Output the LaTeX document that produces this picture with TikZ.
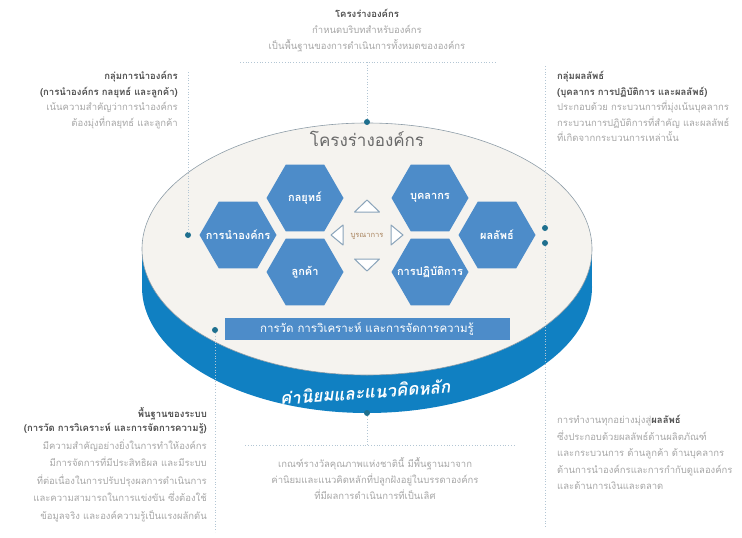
\documentclass[tikz,border=0pt]{standalone}
\usepackage{fontspec}
\usepackage{tikz}
\usetikzlibrary{shapes,positioning}
\newfontfamily\thaifont[Script=Thai]{Loma}
\definecolor{bandblue}{HTML}{1080C2}
\definecolor{hexblue}{HTML}{4D8CC9}
\definecolor{facecream}{HTML}{F5F3EF}
\definecolor{rimgrey}{HTML}{8E9DA8}
\definecolor{titlegrey}{HTML}{6A6A6A}
\definecolor{descgrey}{HTML}{A6A6A6}
\definecolor{headgrey}{HTML}{4F4F4F}
\definecolor{dotteal}{HTML}{1E6F8E}
\definecolor{guideblue}{HTML}{B3C6D4}
\definecolor{trigrey}{HTML}{8AA4BA}
\newcommand\headtxt[1]{{\bfseries\color{headgrey}#1}}
\begin{document}
\begin{tikzpicture}[x=1pt,y=-1pt,
    hexlbl/.style={text=white,inner sep=0pt,font=\thaifont\bfseries\fontsize{11}{12}\selectfont},
    hexa/.style={regular polygon,regular polygon sides=6,minimum size=77pt,inner sep=0pt,fill=hexblue,label={[hexlbl]center:#1}},
    desc/.style={inner sep=0pt,text=descgrey,font=\thaifont\fontsize{9.5}{15.5}\selectfont},
    dot/.style={circle,fill=dotteal,inner sep=0pt,minimum size=6pt},
    guide/.style={draw=guideblue,dotted,line width=0.8pt},
    tri/.style={draw=trigrey,fill=white,line width=1pt,line join=round}]
\useasboundingbox (0,0) rectangle (742,538);
% base and face
\fill[bandblue] (142,249) rectangle (592,287);
\fill[bandblue] (367,287) ellipse [x radius=225,y radius=126];
\filldraw[fill=facecream,draw=rimgrey,line width=0.6pt] (367,249) ellipse [x radius=225,y radius=126];
\node[text=titlegrey,font=\thaifont\fontsize{17}{19}\selectfont] (frame) at (367,139) {โครงร่างองค์กร};
% hexagons
\node[hexa={การนำองค์กร}] (lead) at (238,235) {};
\node[hexa={กลยุทธ์}] (strat) at (305,198) {};
\node[hexa={ลูกค้า}] (cust) at (305,272) {};
\node[hexa={บุคลากร}] (work) at (430,198) {};
\node[hexa={การปฏิบัติการ}] (ops) at (430,272) {};
\node[hexa={ผลลัพธ์}] (res) at (497,235) {};
% integration
\node[text=brown!60!gray,font=\thaifont\fontsize{7.5}{8}\selectfont,inner sep=1pt] (intg) at (367,236) {บูรณาการ};
\draw[tri,shift={(367,206)}] (-12.5,6) -- (0,-6) -- (12.5,6) -- cycle;
\draw[tri,shift={(367,265)}] (-12.5,-6) -- (0,6) -- (12.5,-6) -- cycle;
\draw[tri,shift={(337,235)}] (6,-10) -- (-6,0) -- (6,10) -- cycle;
\draw[tri,shift={(397,235)}] (-6,-10) -- (6,0) -- (-6,10) -- cycle;
\node[fill=hexblue,text=white,minimum width=285pt,minimum height=22pt,inner sep=0pt,font=\thaifont\fontsize{11.5}{13}\selectfont] (kmbar) at (367,329) {การวัด การวิเคราะห์ และการจัดการความรู้};
\node[text=white,rotate=4,font=\thaifont\bfseries\itshape\fontsize{17}{19}\selectfont] (corev) at (365,392) {ค่านิยมและแนวคิดหลัก};
% dots and guides
\node[dot] (dtop) at (367,122) {};
\node[dot] (dleft) at (188,235) {};
\node[dot] (dright1) at (545,228) {};
\node[dot] (dright2) at (545,243) {};
\node[dot] (dbase) at (215,330) {};
\node[dot] (dval) at (367,413) {};
\coordinate (gtop) at (367,62);
\coordinate (gtopL) at (240,62);
\coordinate (gtopR) at (495,62);
\coordinate (gleft) at (188,72);
\coordinate (grightT) at (545,66);
\coordinate (grightB) at (545,527);
\coordinate (gbase) at (215,532);
\coordinate (gval) at (367,445);
\coordinate (gvalL) at (245,445);
\coordinate (gvalR) at (515,445);
\draw[guide] (gtopL) -- (gtopR);
\draw[guide] (gtop) -- (dtop);
\draw[guide] (gleft) -- (dleft);
\draw[guide] (grightT) -- (dright1);
\draw[guide] (dright2) -- (grightB);
\draw[guide] (dbase) -- (gbase);
\draw[guide] (dval) -- (gval);
\draw[guide] (gvalL) -- (gvalR);
% texts
\node[desc,align=center,anchor=north,font=\thaifont\fontsize{9.5}{16}\selectfont] (toptxt) at (367,9) {\headtxt{โครงร่างองค์กร}\\ กำหนดบริบทสำหรับองค์กร\\ เป็นพื้นฐานของการดำเนินการทั้งหมดขององค์กร};
\node[desc,align=right,anchor=north east] (leadtxt) at (178,71) {\headtxt{กลุ่มการนำองค์กร}\\ \headtxt{(การนำองค์กร กลยุทธ์ และลูกค้า)}\\ เน้นความสำคัญว่าการนำองค์กร\\ ต้องมุ่งที่กลยุทธ์ และลูกค้า};
\node[desc,align=left,anchor=north west] (restxt) at (557,71) {\headtxt{กลุ่มผลลัพธ์}\\ \headtxt{(บุคลากร การปฏิบัติการ และผลลัพธ์)}\\ ประกอบด้วย กระบวนการที่มุ่งเน้นบุคลากร\\ กระบวนการปฏิบัติการที่สำคัญ และผลลัพธ์\\ ที่เกิดจากกระบวนการเหล่านั้น};
\node[desc,align=right,anchor=north east,font=\thaifont\fontsize{9.5}{17.5}\selectfont] (basetxt) at (207,407) {\headtxt{พื้นฐานของระบบ}\\[-3pt] \headtxt{(การวัด การวิเคราะห์ และการจัดการความรู้)}\\ มีความสำคัญอย่างยิ่งในการทำให้องค์กร\\ มีการจัดการที่มีประสิทธิผล และมีระบบ\\ ที่ต่อเนื่องในการปรับปรุงผลการดำเนินการ\\ และความสามารถในการแข่งขัน ซึ่งต้องใช้\\ ข้อมูลจริง และองค์ความรู้เป็นแรงผลักดัน};
\node[desc,align=center,anchor=north,font=\thaifont\fontsize{9.5}{16}\selectfont] (valtxt) at (375,457) {เกณฑ์รางวัลคุณภาพแห่งชาตินี้ มีพื้นฐานมาจาก\\ ค่านิยมและแนวคิดหลักที่ปลูกฝังอยู่ในบรรดาองค์กร\\ ที่มีผลการดำเนินการที่เป็นเลิศ};
\node[desc,align=left,anchor=north west,font=\thaifont\fontsize{9.5}{16.5}\selectfont] (outtxt) at (557,415) {การทำงานทุกอย่างมุ่งสู่\headtxt{ผลลัพธ์}\\ ซึ่งประกอบด้วยผลลัพธ์ด้านผลิตภัณฑ์\\ และกระบวนการ ด้านลูกค้า ด้านบุคลากร\\ ด้านการนำองค์กรและการกำกับดูแลองค์กร\\ และด้านการเงินและตลาด};
\end{tikzpicture}
\end{document}
